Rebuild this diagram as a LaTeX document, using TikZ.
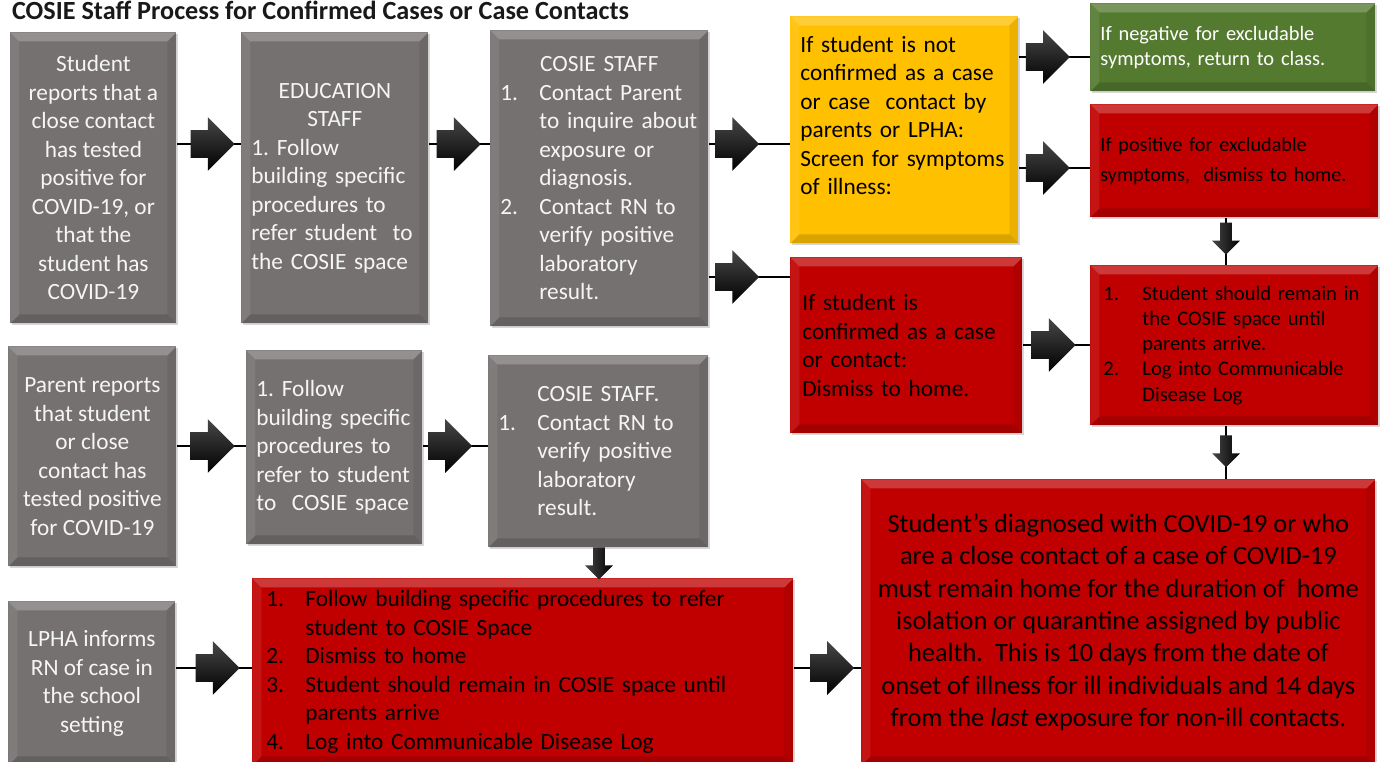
\documentclass[tikz,border=0pt]{standalone}
\usepackage{fontspec}
\setmainfont{Carlito}
\frenchspacing
\usetikzlibrary{shapes.arrows,shadows}
\definecolor{boxgray}{RGB}{118,113,113}
\definecolor{boxred}{RGB}{192,0,0}
\definecolor{boxyellow}{RGB}{255,192,0}
\definecolor{boxgreen}{RGB}{84,122,48}
\newcommand{\bodyfont}{\fontsize{11.65}{14.25}\selectfont}
\newcommand{\smallfont}{\fontsize{10.2}{12.5}\selectfont}
\newcommand{\bigfont}{\fontsize{13.2}{16.15}\selectfont}
\newcommand{\num}[1]{\makebox[19.5pt][l]{#1}}
\newcommand{\ind}{\hspace*{19.5pt}}
\newcommand{\bevw}{4.5pt}
\tikzset{
  bevel/.style={path picture={
    \fill[white,opacity=.22] (path picture bounding box.north west) -- (path picture bounding box.north east)
      -- ([xshift=-\bevw,yshift=-\bevw]path picture bounding box.north east) -- ([xshift=\bevw,yshift=-\bevw]path picture bounding box.north west) -- cycle;
    \fill[black,opacity=.15] (path picture bounding box.south west) -- (path picture bounding box.south east)
      -- ([xshift=-\bevw,yshift=\bevw]path picture bounding box.south east) -- ([xshift=\bevw,yshift=\bevw]path picture bounding box.south west) -- cycle;
    \fill[white,opacity=.08] (path picture bounding box.north west) -- ([xshift=\bevw,yshift=-\bevw]path picture bounding box.north west)
      -- ([xshift=\bevw,yshift=\bevw]path picture bounding box.south west) -- (path picture bounding box.south west) -- cycle;
    \fill[black,opacity=.08] (path picture bounding box.north east) -- ([xshift=-\bevw,yshift=-\bevw]path picture bounding box.north east)
      -- ([xshift=-\bevw,yshift=\bevw]path picture bounding box.south east) -- (path picture bounding box.south east) -- cycle;}},
  box/.style 2 args={rectangle, anchor=north west, inner sep=0pt, minimum width=#1*0.5pt, minimum height=#2*0.5pt,
    bevel, drop shadow={shadow xshift=.6pt, shadow yshift=-.9pt, opacity=.3}},
  graybox/.style={fill=boxgray, text=white!93!boxgray, font=\bodyfont},
  redbox/.style={fill=boxred, text=black, font=\bodyfont},
  yellowbox/.style={fill=boxyellow, text=black, font=\bodyfont},
  greenbox/.style={fill=boxgreen, text=white, font=\smallfont},
  conn/.style={draw=black, line width=.9pt},
  harr/.style={single arrow, draw=none, top color=black!72, bottom color=black, inner xsep=0pt, inner ysep=6.5pt,
    minimum height=22pt, single arrow head extend=6.5pt, single arrow head indent=0pt, xshift=-3.5pt},
  varr/.style={single arrow, draw=none, left color=black!72, right color=black, inner sep=2.5pt,
    shape border rotate=270, minimum height=16pt, single arrow head extend=4pt, single arrow head indent=0pt, yshift=1.25pt}
}

\begin{document}
\begin{tikzpicture}[x=0.5pt, y=-0.5pt]
  \path[use as bounding box, fill=white] (0,0) rectangle (1385,761);
  \node[anchor=base west, font=\fontsize{13.1}{15}\selectfont\bfseries, text=black!90] (title) at (5,19)
    {COSIE Staff Process for Confirmed Cases or Case Contacts};

  % first row
  \node[graybox, box={166}{291}, align=center] (a1) at (10,32)
    {Student\\reports that a\\close contact\\has tested\\positive for\\COVID-19, or\\that the\\student has\\COVID-19};
  \node[graybox, box={187}{291}, text width=83.5pt, align=left] (b1) at (241,32)
    {{\centering EDUCATION\\STAFF\par}1. Follow\\building specific\\procedures to\\refer student\ \ to\\the COSIE space};
  \node[graybox, box={218}{296}, text width=99pt, align=left] (c1) at (490,30)
    {{\centering COSIE STAFF\par}\num{1.}Contact Parent\\\ind to inquire about\\\ind exposure or\\\ind diagnosis.\\
     \num{2.}Contact RN to\\\ind verify positive\\\ind laboratory\\\ind result.};
  \node[yellowbox, box={228}{227}, text width=104pt, align=left] (yel) at (790,16)
    {If student is not\\confirmed as a case\\or case\ \ contact by\\parents or LPHA:\\Screen for symptoms\\of illness:\\[-4pt]\strut};
  \node[redbox, box={232}{176}, text width=104pt, align=left] (d2) at (790,257)
    {If student is\\confirmed as a case\\or contact:\\Dismiss to home.};
  \node[greenbox, box={285}{88}, text width=132.5pt, align=left] (grn) at (1090,3)
    {If negative for excludable\\symptoms, return to class.};
  \node[redbox, box={288}{113}, text width=134pt, align=left, font=\fontsize{10.1}{15}\selectfont] (e1) at (1090,104)
    {If positive for excludable\\symptoms,\ \ dismiss to home.};
  \node[redbox, box={288}{160}, text width=131pt, align=left, font=\fontsize{10.3}{12.6}\selectfont] (e2) at (1090,265)
    {\num{1.}Student should remain in\\\ind the COSIE space until\\\ind parents arrive.\\
     \num{2.}Log into Communicable\\\ind Disease Log};
  \node[redbox, box={514}{286}, align=center, font=\bigfont] (f) at (861,479)
    {Student’s diagnosed with COVID-19 or who\\are a close contact of a case of COVID-19\\
     must remain home for the duration of\ \ home\\isolation or quarantine assigned by public\\
     health.\ \ This is 10 days from the date of\\onset of illness for ill individuals and 14 days\\
     from the \textit{last} exposure for non-ill contacts.};

  % second row
  \node[graybox, box={168}{220}, align=center] (a2) at (8,346)
    {Parent reports\\that student\\or close\\contact has\\tested positive\\for COVID-19};
  \node[graybox, box={176}{194}, text width=78pt, align=left] (b2) at (246,350)
    {1. Follow\\building specific\\procedures to\\refer to student\\to\ \ COSIE space};
  \node[graybox, box={220}{192}, text width=100pt, align=left] (c2) at (488,355)
    {{\centering COSIE STAFF.\par}\num{1.}Contact RN to\\\ind verify positive\\\ind laboratory\\\ind result.};

  % third row
  \node[graybox, box={167}{164}, align=center] (a3) at (8,601)
    {LPHA informs\\RN of case in\\the school\\setting};
  \node[redbox, box={541}{187}, text width=256.5pt, align=left] (g) at (252,578)
    {\num{1.}Follow building specific procedures to refer\\\ind student to COSIE Space\\\num{2.}Dismiss to home\\
     \num{3.}Student should remain in COSIE space until\\\ind parents arrive\\\num{4.}Log into Communicable Disease Log};

  % connectors
  \coordinate (r1) at (0,144);
  \coordinate (r2) at (0,277);
  \coordinate (r3) at (0,57);
  \coordinate (r4) at (0,168);
  \coordinate (r5) at (0,345);
  \coordinate (r6) at (0,446);
  \coordinate (r7) at (0,668);
  \coordinate (k1) at (1226,0);
  \coordinate (k2) at (599,0);
  \draw[conn] (a1.east |- r1) -- node[harr, pos=.56] (p1) {} (b1.west |- r1);
  \draw[conn] (b1.east |- r1) -- node[harr, pos=.49] (p2) {} (c1.west |- r1);
  \draw[conn] (c1.east |- r1) -- node[harr, pos=.35] (p3) {} (yel.west |- r1);
  \draw[conn] (c1.east |- r2) -- node[harr, pos=.35] (p4) {} (d2.west |- r2);
  \draw[conn] (yel.east |- r3) -- node[harr, pos=.41] (p5) {} (grn.west |- r3);
  \draw[conn] (yel.east |- r4) -- node[harr, pos=.41] (p6) {} (e1.west |- r4);
  \draw[conn] (d2.east |- r5) -- node[harr, pos=.46] (p7) {} (e2.west |- r5);
  \draw[conn] (a2.east |- r6) -- node[harr, pos=.52] (p8) {} (b2.west |- r6);
  \draw[conn] (b2.east |- r6) -- node[harr, pos=.42] (p9) {} (c2.west |- r6);
  \draw[conn] (a3.east |- r7) -- node[harr, pos=.55] (p10) {} (g.west |- r7);
  \draw[conn] (g.east |- r7) -- node[harr, pos=.57] (p11) {} (f.west |- r7);
  \draw[conn] (e1.south -| k1) -- node[varr, pos=.43] (p12) {} (e2.north -| k1);
  \draw[conn] (e2.south -| k1) -- node[varr, pos=.47] (p13) {} (f.north -| k1);
  \draw[conn] (c2.south -| k2) -- node[varr, pos=.5] (p14) {} (g.north -| k2);
\end{tikzpicture}
\end{document}
